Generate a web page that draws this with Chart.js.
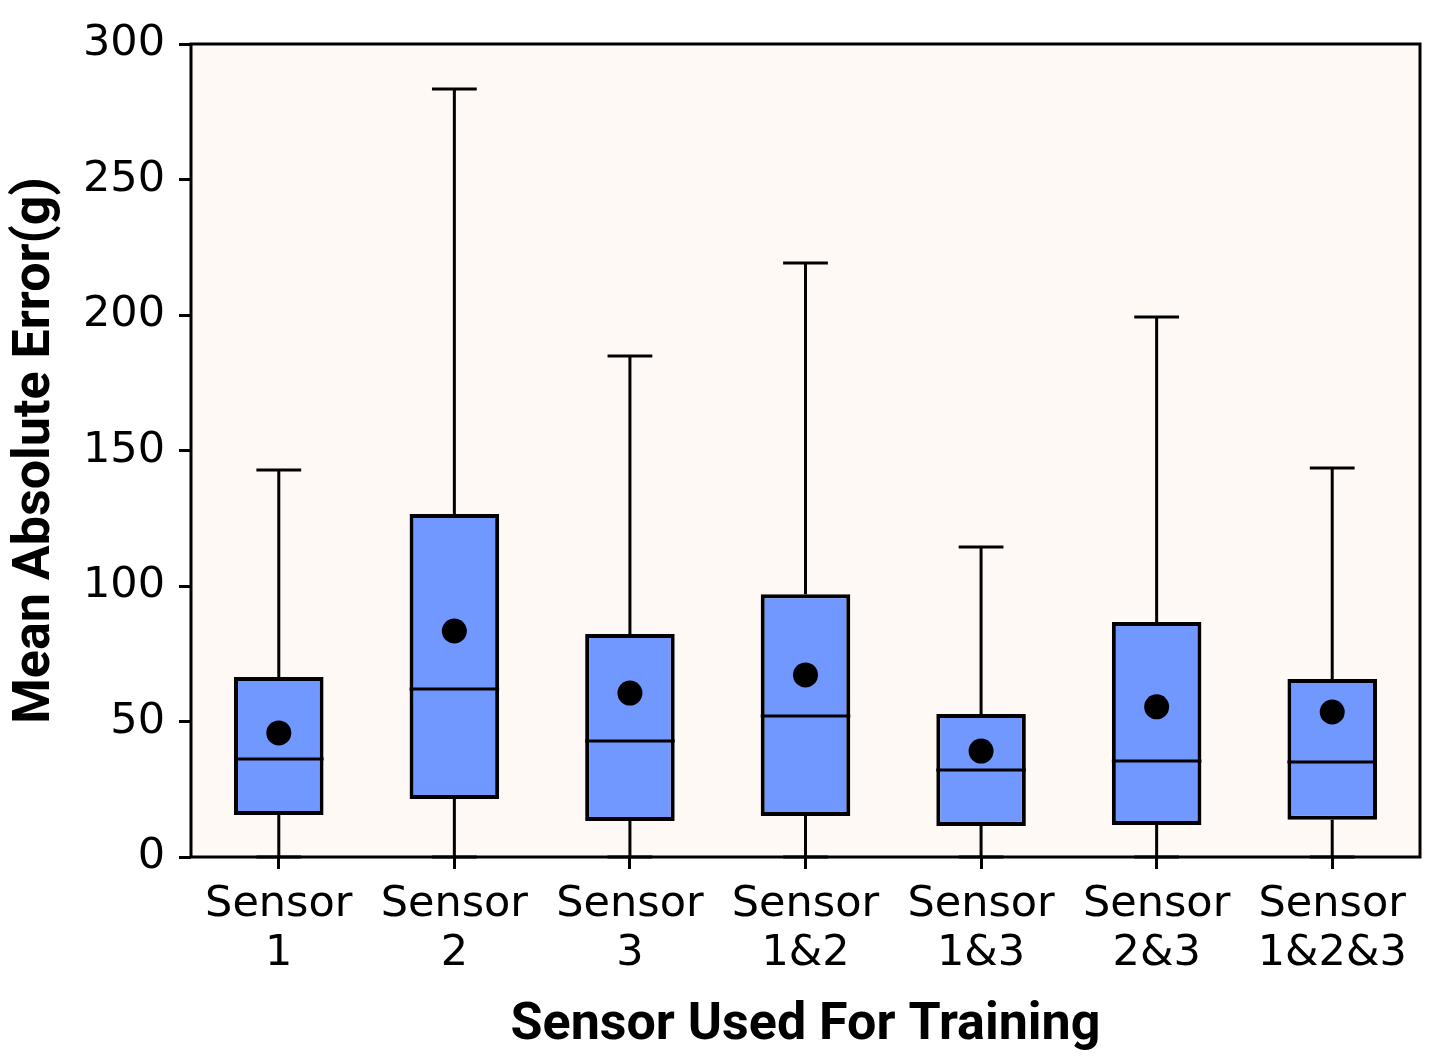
<!DOCTYPE html>
<html>
<head>
<meta charset="utf-8">
<title>Mean Absolute Error by Sensor</title>
<script src="https://cdn.jsdelivr.net/npm/chart.js@4.4.1/dist/chart.umd.min.js"></script>
<style>
  html, body { margin: 0; padding: 0; background: #ffffff; }
  #wrap { width: 1448px; height: 1057px; position: relative; }
</style>
</head>
<body>
<div id="wrap"><canvas id="chart"></canvas></div>
<script>
// values (grams)
const categories = [['Sensor', '1'], ['Sensor', '2'], ['Sensor', '3'], ['Sensor', '1&2'], ['Sensor', '1&3'], ['Sensor', '2&3'], ['Sensor', '1&2&3']];
const whiskerLow = [0, 0, 0, 0, 0, 0, 0];
const q1 = [15.5, 21.4, 13.3, 15.1, 11.4, 11.8, 13.7];
const median = [36.2, 62.0, 42.8, 52.0, 32.1, 35.4, 35.1];
const q3 = [66.4, 126.6, 82.3, 97.0, 52.8, 86.7, 65.7];
const whiskerHigh = [142.8, 283.4, 184.9, 219.2, 114.4, 199.3, 143.5];
const means = [45.8, 83.4, 60.5, 67.2, 39.1, 55.4, 53.5];
const yTicks = [0, 50, 100, 150, 200, 250, 300];

const BOX_INDEX = 1;
const titleFont = { family: "'Liberation Sans Narrow', Roboto, 'DejaVu Sans', sans-serif", size: 52, weight: 'bold' };

const boxPlotPlugin = {
  id: 'boxPlot',
  beforeDraw(chart) {
    const { ctx, chartArea: a } = chart;
    ctx.save();
    ctx.fillStyle = '#fff9f5';
    ctx.fillRect(a.left, a.top, a.right - a.left, a.bottom - a.top);
    ctx.restore();
  },
  beforeDatasetsDraw(chart) {
    const { ctx } = chart;
    const y = chart.scales.y;
    const bars = chart.getDatasetMeta(BOX_INDEX).data;
    ctx.save();
    ctx.strokeStyle = '#000';
    ctx.lineWidth = 3;
    bars.forEach((bar, i) => {
      const cx = bar.x;
      const half = bar.width / 4;
      ctx.beginPath();
      ctx.moveTo(cx, y.getPixelForValue(whiskerLow[i]));
      ctx.lineTo(cx, y.getPixelForValue(q1[i]));
      ctx.moveTo(cx, y.getPixelForValue(q3[i]));
      ctx.lineTo(cx, y.getPixelForValue(whiskerHigh[i]));
      ctx.moveTo(cx - half, y.getPixelForValue(whiskerHigh[i]));
      ctx.lineTo(cx + half, y.getPixelForValue(whiskerHigh[i]));
      ctx.moveTo(cx - half, y.getPixelForValue(whiskerLow[i]));
      ctx.lineTo(cx + half, y.getPixelForValue(whiskerLow[i]));
      ctx.stroke();
    });
    ctx.restore();
  },
  afterDatasetDraw(chart, args) {
    if (args.index !== BOX_INDEX) return;
    const { ctx } = chart;
    const y = chart.scales.y;
    ctx.save();
    ctx.strokeStyle = '#000';
    ctx.lineWidth = 3;
    args.meta.data.forEach((bar, i) => {
      const py = y.getPixelForValue(median[i]);
      ctx.beginPath();
      ctx.moveTo(bar.x - bar.width / 2, py);
      ctx.lineTo(bar.x + bar.width / 2, py);
      ctx.stroke();
    });
    ctx.restore();
  },
  afterDraw(chart) {
    const { ctx, chartArea: a } = chart;
    ctx.save();
    ctx.strokeStyle = '#000';
    ctx.lineWidth = 3;
    ctx.strokeRect(a.left, a.top, a.right - a.left, a.bottom - a.top);
    ctx.restore();
  }
};

const ctx = document.getElementById('chart').getContext('2d');

new Chart(ctx, {
  data: {
    labels: categories,
    datasets: [
      {
        type: 'line',
        label: 'Mean',
        data: means,
        showLine: false,
        pointRadius: 12.5,
        pointBackgroundColor: '#000',
        pointBorderWidth: 0,
        order: 1,
      },
      {
        type: 'bar',
        label: 'IQR',
        data: q1.map((v, i) => [v, q3[i]]),
        backgroundColor: '#7098ff',
        borderColor: '#000',
        borderWidth: 4,
        borderSkipped: false,
        barPercentage: 0.51,
        categoryPercentage: 1,
        order: 2,
      },
    ],
  },
  options: {
    responsive: true,
    maintainAspectRatio: false,
    animation: false,
    devicePixelRatio: 1,
    layout: { padding: { left: 0, right: 28, top: 44, bottom: 0 } },
    plugins: {
      legend: { display: false },
      tooltip: { enabled: false },
    },
    scales: {
      x: {
        offset: true,
        border: { display: false },
        grid: { drawOnChartArea: false, drawTicks: true, tickLength: 12, color: '#000', lineWidth: 3, offset: false },
        ticks: {
          color: '#000',
          padding: 11,
          maxRotation: 0,
          font: { family: 'DejaVu Sans', size: 43, lineHeight: 1.15 },
        },
        title: {
          display: true,
          text: 'Sensor Used For Training',
          color: '#000',
          padding: { top: 12, bottom: 0 },
          font: titleFont,
        },
        afterFit(scale) { scale.height = 200; },
      },
      y: {
        min: 0,
        max: 300,
        afterBuildTicks(scale) { scale.ticks = yTicks.map(v => ({ value: v })); },
        border: { display: false },
        grid: { drawOnChartArea: false, drawTicks: true, tickLength: 12, color: '#000', lineWidth: 3 },
        ticks: {
          color: '#000',
          padding: 14,
          font: { family: 'DejaVu Sans', size: 43 },
        },
        title: {
          display: true,
          text: 'Mean Absolute Error(g)',
          color: '#000',
          padding: { top: 5, bottom: 0 },
          font: titleFont,
        },
        afterFit(scale) { scale.width = 191; },
      },
    },
  },
  plugins: [boxPlotPlugin],
});
</script>
</body>
</html>
